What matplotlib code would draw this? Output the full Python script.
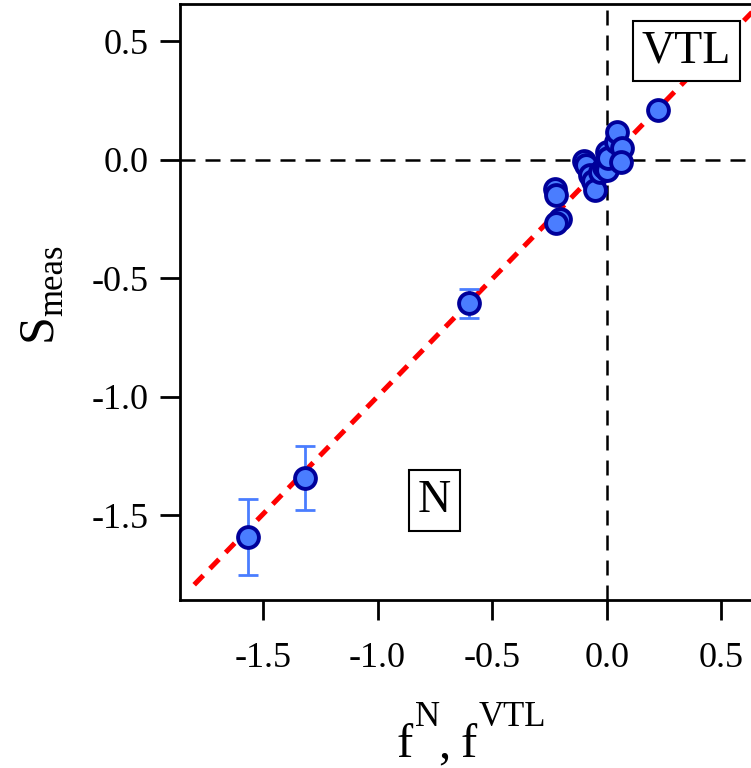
import numpy as np
import matplotlib
matplotlib.use("Agg")
import matplotlib.pyplot as plt

# measured vs. predicted values
f_pred = [-1.565, -1.317, -0.600, -0.226, -0.220, -0.205, -0.220, -0.100, -0.090,
          -0.073, -0.060, -0.050, -0.030, -0.010, 0.000, 0.000, 0.000, 0.005,
          0.040, 0.046, 0.065, 0.063, 0.225]
s_meas = [-1.592, -1.343, -0.605, -0.122, -0.148, -0.250, -0.265, -0.003, -0.020,
          -0.065, -0.090, -0.125, -0.050, -0.030, 0.032, -0.010, -0.042, 0.010,
          0.075, 0.118, 0.050, -0.008, 0.211]
s_err = [0.160, 0.135, 0.062] + [0.0] * 20

# linear fit
fit_slope = 0.9925
fit_intercept = -0.006
fit_range = [-1.8, 0.66]

xticks = [-1.5, -1.0, -0.5, 0.0, 0.5]
yticks = [-1.5, -1.0, -0.5, 0.0, 0.5]

W, H = 751, 768


def px(x, y):
    return x / W, 1 - y / H


def main():
    plt.rcParams["font.family"] = ["Liberation Serif", "DejaVu Serif"]

    fig = plt.figure(figsize=(W / 100, H / 100), dpi=100)
    x0, x1 = -1.862, 0.66
    y0, y1 = -1.857, 0.658
    left = 180 / W
    width = (x1 - x0) * 229.2 / W
    bottom = 1 - 600 / H
    height = (y1 - y0) * 237 / H
    ax = fig.add_axes([left, bottom, width, height])
    ax.set_xlim(x0, x1)
    ax.set_ylim(y0, y1)

    for s in ax.spines.values():
        s.set_linewidth(2.0)

    ax.axvline(0, color="black", lw=1.8, ls=(0, (6, 4)), zorder=1)
    ax.axhline(0, color="black", lw=1.8, ls=(0, (6, 4)), zorder=1)

    fx = np.array(fit_range)
    ax.plot(fx, fit_slope * fx + fit_intercept, color="#ff0000", lw=3.6,
            ls=(0, (2.6, 1.9)), zorder=2)

    xs = np.array(f_pred)
    ys = np.array(s_meas)
    es = np.array(s_err)
    m = es > 0
    ax.errorbar(xs[m], ys[m], yerr=es[m], fmt="none", ecolor="#4a7dff",
                elinewidth=2.0, capsize=7.5, capthick=2.0, zorder=3)
    ax.plot(xs, ys, "o", ms=15, mfc="#4a7dff", mec="#00009a", mew=2.8,
            zorder=4, clip_on=False)

    ax.set_xticks(xticks)
    ax.set_yticks(yticks)
    ax.set_xticklabels([f"{v:.1f}" for v in xticks])
    ax.set_yticklabels([f"{v:.1f}" for v in yticks])
    ax.tick_params(direction="out", length=14.5, width=2.0, labelsize=26)
    ax.tick_params(axis="x", pad=16)
    ax.tick_params(axis="y", pad=8)

    # annotation boxes
    box = dict(boxstyle="square,pad=0.2", fc="white", ec="black", lw=1.5)
    fig.text(*px(686.5, 51), "VTL", fontsize=33, ha="center", va="center",
             bbox=box, zorder=5)
    fig.text(*px(434.5, 500.5), "N", fontsize=33, ha="center", va="center",
             bbox=box, zorder=5)

    # x label: f^N, f^VTL
    big, small = 35, 25
    kw = dict(ha="left", va="baseline")
    fig.text(*px(397, 757), "f", fontsize=big, **kw)
    fig.text(*px(415, 726), "N", fontsize=small, **kw)
    fig.text(*px(438, 757), ",", fontsize=big, **kw)
    fig.text(*px(461, 757), "f", fontsize=big, **kw)
    fig.text(*px(479, 726), "VTL", fontsize=small, **kw)

    # y label: S_meas
    rkw = dict(ha="left", va="baseline", rotation=90, rotation_mode="anchor")
    fig.text(*px(50, 341), "S", fontsize=36, **rkw)
    fig.text(*px(62, 316), "meas", fontsize=small, **rkw)

    fig.savefig("out.png", dpi=100)


if __name__ == "__main__":
    main()
